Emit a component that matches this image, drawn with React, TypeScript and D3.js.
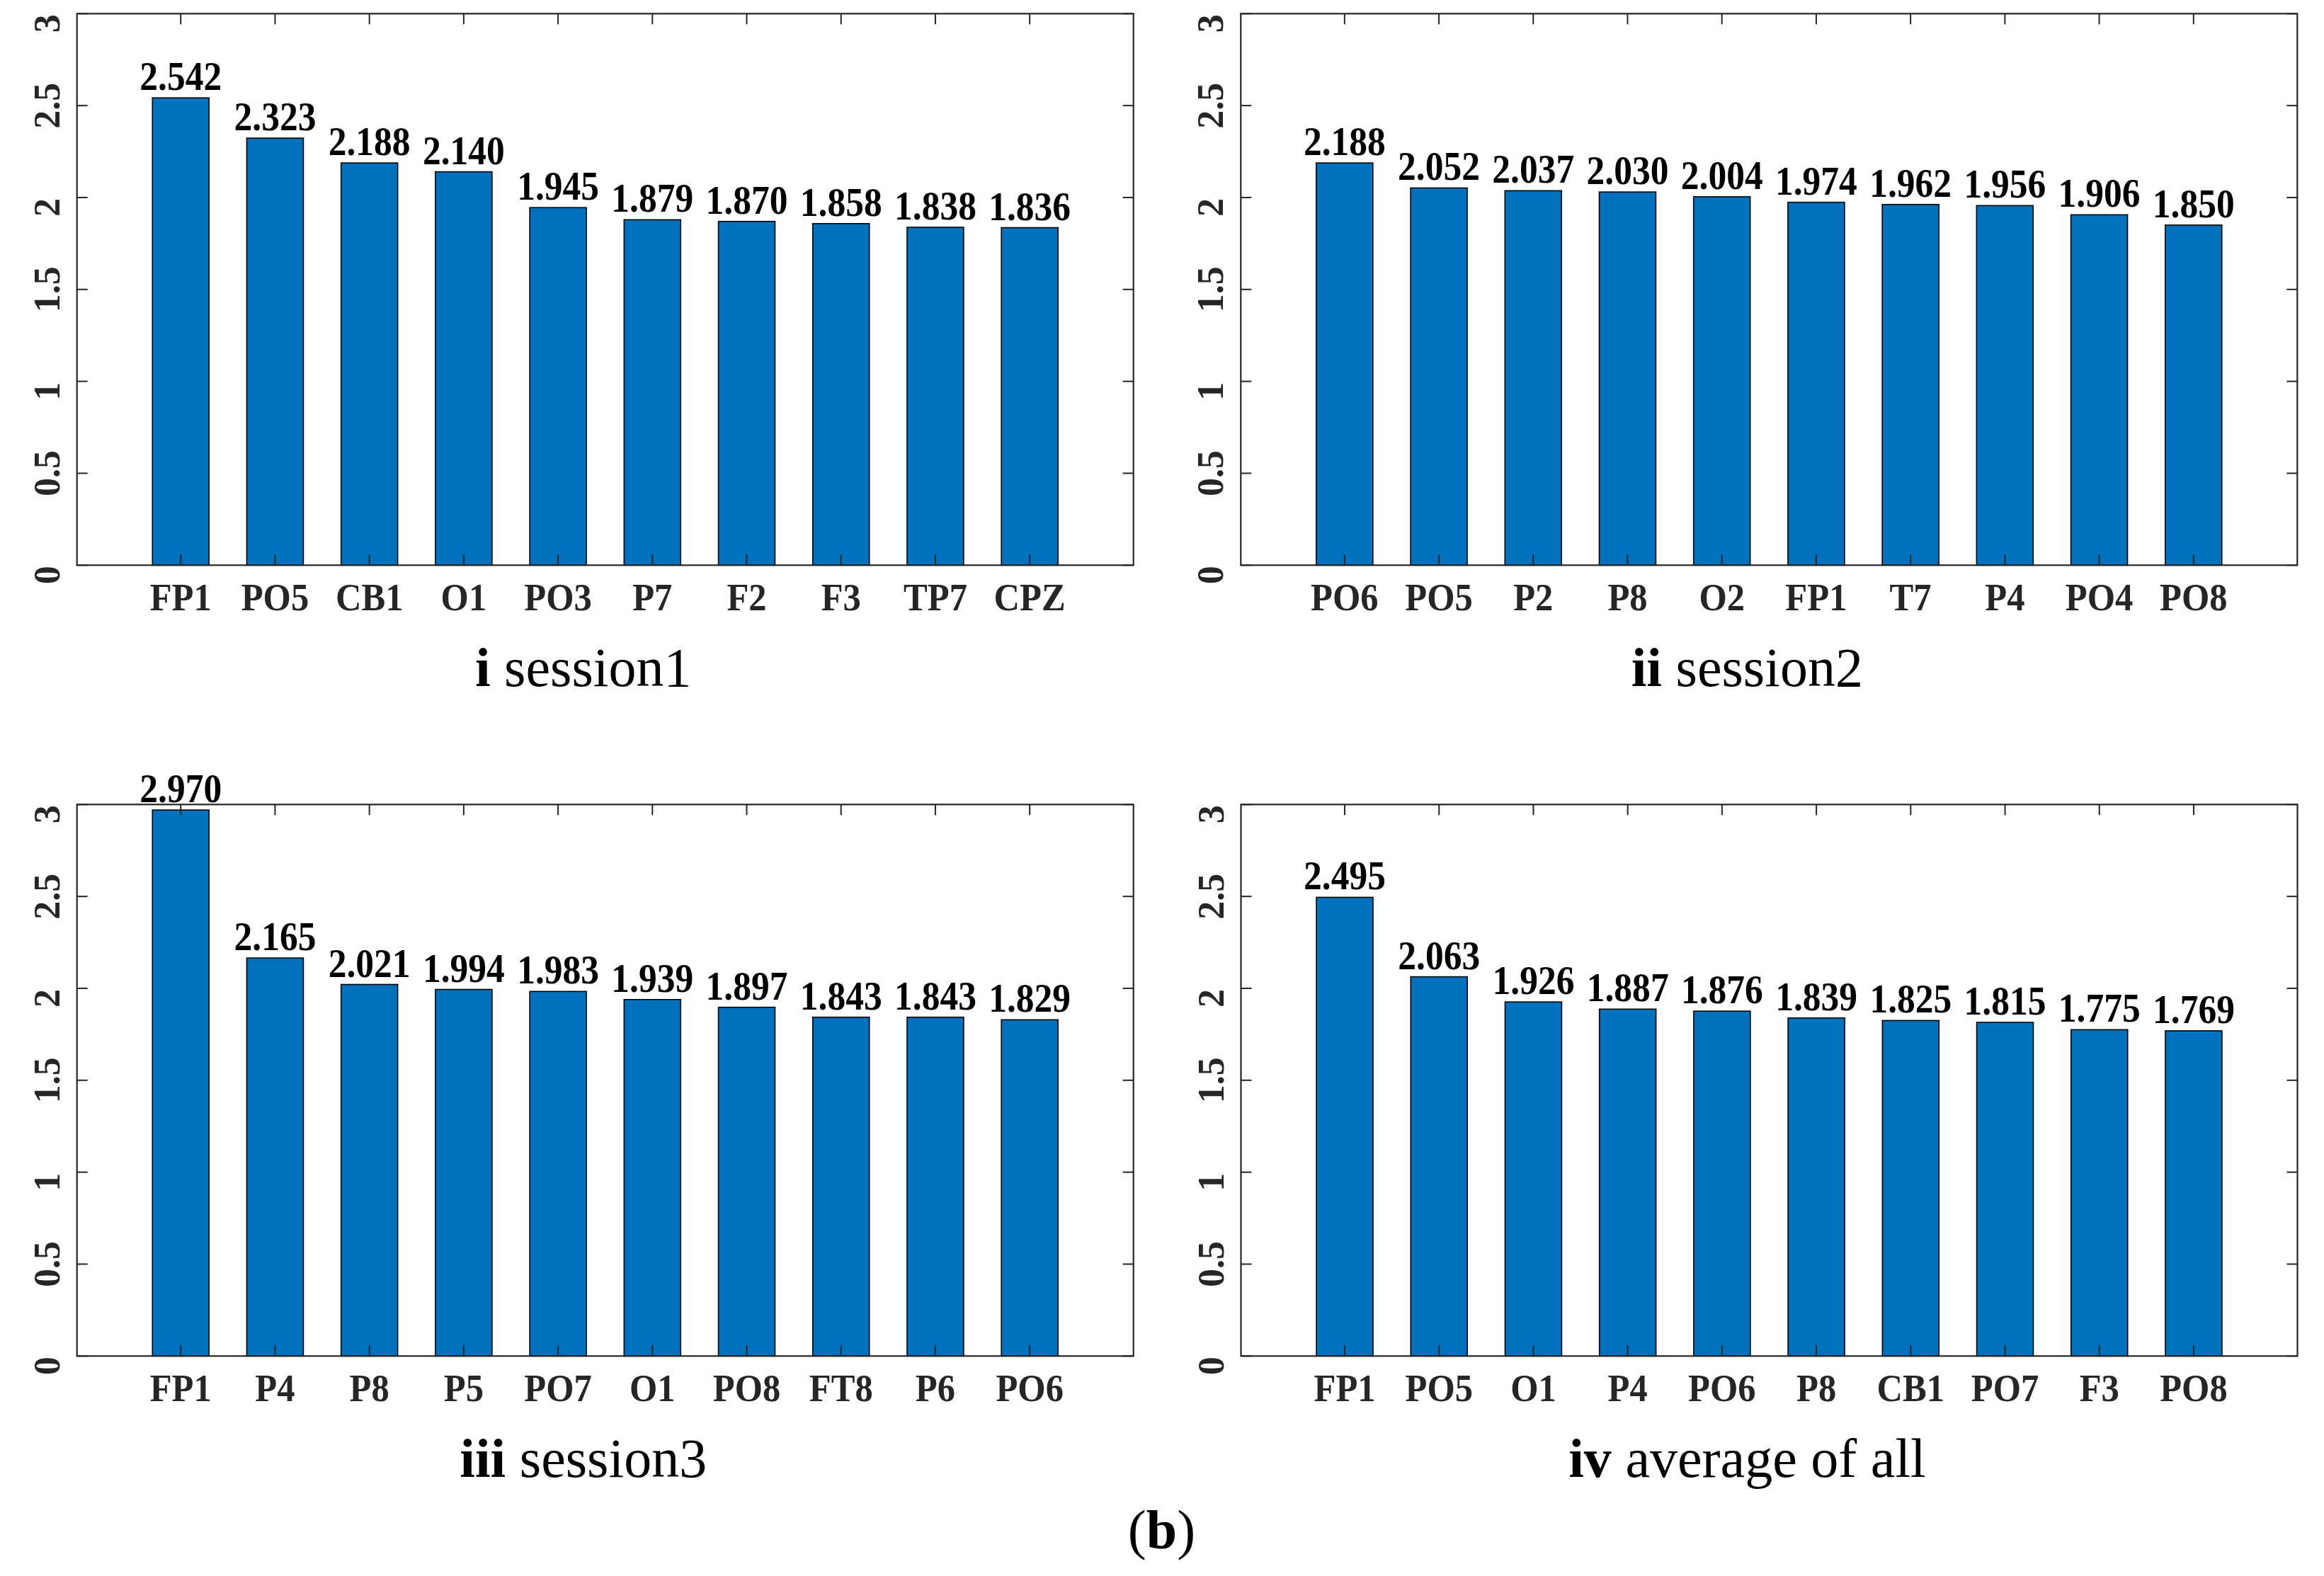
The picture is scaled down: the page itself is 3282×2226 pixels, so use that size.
import React from "react";
import * as d3 from "d3";

const session1Channels = ["FP1", "PO5", "CB1", "O1", "PO3", "P7", "F2", "F3", "TP7", "CPZ"];
const session1Values = [2.542, 2.323, 2.188, 2.14, 1.945, 1.879, 1.87, 1.858, 1.838, 1.836];

const session2Channels = ["PO6", "PO5", "P2", "P8", "O2", "FP1", "T7", "P4", "PO4", "PO8"];
const session2Values = [2.188, 2.052, 2.037, 2.03, 2.004, 1.974, 1.962, 1.956, 1.906, 1.85];

const session3Channels = ["FP1", "P4", "P8", "P5", "PO7", "O1", "PO8", "FT8", "P6", "PO6"];
const session3Values = [2.97, 2.165, 2.021, 1.994, 1.983, 1.939, 1.897, 1.843, 1.843, 1.829];

const averageChannels = ["FP1", "PO5", "O1", "P4", "PO6", "P8", "CB1", "PO7", "F3", "PO8"];
const averageValues = [2.495, 2.063, 1.926, 1.887, 1.876, 1.839, 1.825, 1.815, 1.775, 1.769];

const yTicks = [0, 0.5, 1, 1.5, 2, 2.5, 3];
const panelNumerals = ["i", "ii", "iii", "iv"];
const panelTitles = ["session1", "session2", "session3", "average of all"];
const figureLabel = "b";

const W = 1492;
const H = 779;
const BAR_COLOR = "#0072BD";
const AXIS_COLOR = "#262626";
const FONT = "'Liberation Serif', 'Times New Roman', serif";
const fmt = d3.format(".3f");

const panels = [
  { left: 108.7, top: 19.3, cats: session1Channels, vals: session1Values },
  { left: 1752.3, top: 19.3, cats: session2Channels, vals: session2Values },
  { left: 108.7, top: 1136.3, cats: session3Channels, vals: session3Values },
  { left: 1752.5, top: 1136.3, cats: averageChannels, vals: averageValues },
];

function Panel({ left, top, cats, vals, numeral, title }: any) {
  const x = d3.scalePoint<string>().domain(cats).range([0, W]).padding(1.1);
  const y = d3.scaleLinear().domain([0, 3]).range([H, 0]);
  const bw = x.step() * 0.6;
  const tickLen = 15;
  return (
    <g transform={`translate(${left},${top})`}>
      {cats.map((c: string, i: number) => (
        <rect
          key={c + i}
          x={(x(c) as number) - bw / 2}
          y={y(vals[i])}
          width={bw}
          height={H - y(vals[i])}
          fill={BAR_COLOR}
          stroke="#000"
          strokeWidth={1.6}
        />
      ))}
      {cats.map((c: string, i: number) => (
        <text
          key={"v" + i}
          transform={`translate(${x(c)},${y(vals[i]) - 11}) scale(0.92,1)`}
          textAnchor="middle"
          fontFamily={FONT}
          fontWeight="bold"
          fontSize={56}
          fill="#000"
        >
          {fmt(vals[i])}
        </text>
      ))}
      {/* axes box */}
      <rect x={0} y={0} width={W} height={H} fill="none" stroke={AXIS_COLOR} strokeWidth={2.2} />
      {cats.map((c: string, i: number) => (
        <g key={"t" + i} stroke={AXIS_COLOR} strokeWidth={2}>
          <line x1={x(c)} x2={x(c)} y1={H} y2={H - tickLen} />
          <line x1={x(c)} x2={x(c)} y1={0} y2={tickLen} />
        </g>
      ))}
      {yTicks.map((t) => (
        <g key={"y" + t} stroke={AXIS_COLOR} strokeWidth={2}>
          <line x1={0} x2={tickLen} y1={y(t)} y2={y(t)} />
          <line x1={W} x2={W - tickLen} y1={y(t)} y2={y(t)} />
        </g>
      ))}
      {yTicks.map((t) => {
        const label = String(t);
        const shift = (3 - label.length) * 7;
        return (
          <text
            key={"yl" + t}
            transform={`translate(${-25},${y(t) + shift}) rotate(-90)`}
            textAnchor="middle"
            fontFamily={FONT}
            fontWeight="bold"
            fontSize={52}
            fill={AXIS_COLOR}
          >
            {label}
          </text>
        );
      })}
      {cats.map((c: string, i: number) => (
        <text
          key={"xl" + i}
          transform={`translate(${x(c)},${H + 64}) scale(0.92,1)`}
          textAnchor="middle"
          fontFamily={FONT}
          fontWeight="bold"
          fontSize={55}
          fill={AXIS_COLOR}
        >
          {c}
        </text>
      ))}
      <text x={715} y={950} textAnchor="middle" fontFamily={FONT} fontSize={78} fill="#000">
        <tspan fontWeight="bold">{numeral}</tspan>
        <tspan> {title}</tspan>
      </text>
    </g>
  );
}

export default function App() {
  return (
    <svg
      width={3282}
      height={2226}
      viewBox="0 0 3282 2226"
      style={{ position: "absolute", left: 0, top: 0, background: "#fff" }}
    >
      <rect x={0} y={0} width={3282} height={2226} fill="#fff" />
      {panels.map((p, i) => (
        <Panel key={i} {...p} numeral={panelNumerals[i]} title={panelTitles[i]} />
      ))}
      <text x={1640.5} y={2187} textAnchor="middle" fontFamily={FONT} fontSize={78} fill="#000">
        <tspan>(</tspan>
        <tspan fontWeight="bold">{figureLabel}</tspan>
        <tspan>)</tspan>
      </text>
    </svg>
  );
}
